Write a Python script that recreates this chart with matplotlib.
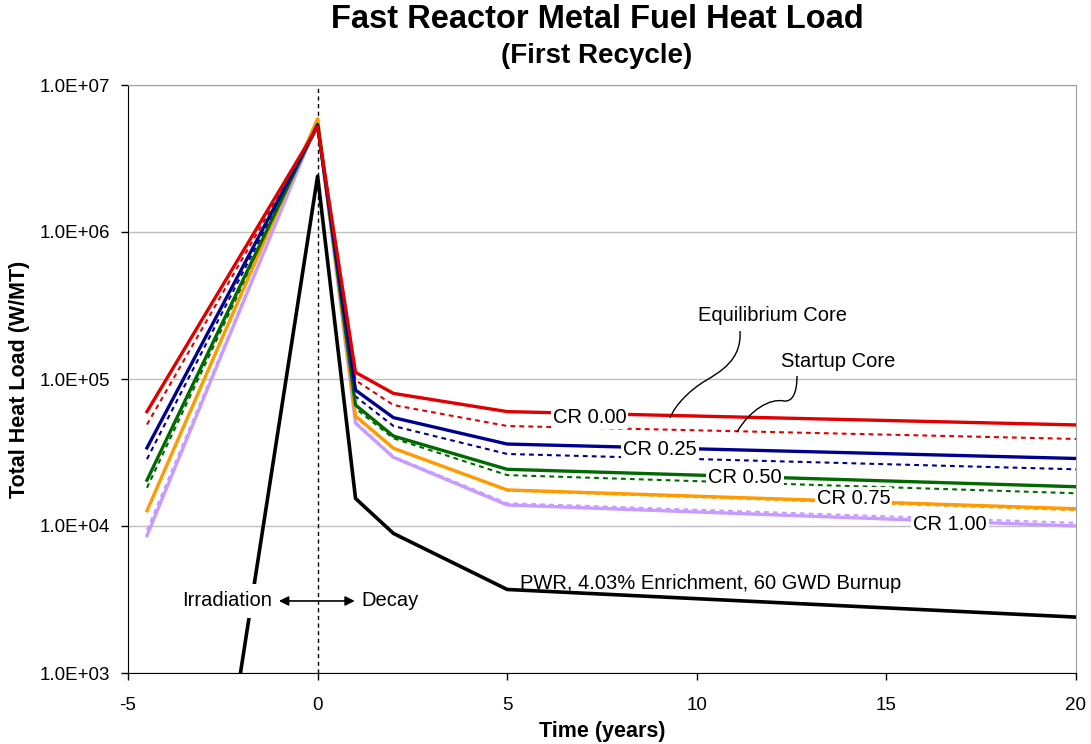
import numpy as np
import matplotlib
matplotlib.use("Agg")
import matplotlib.pyplot as plt
from matplotlib.path import Path
from matplotlib.patches import PathPatch
from matplotlib.ticker import FixedLocator, FuncFormatter, NullLocator

plt.rcParams["font.family"] = ["Liberation Sans", "DejaVu Sans"]
plt.rcParams["axes.unicode_minus"] = False

W, H = 1091, 744

# time axis (years); negative = irradiation, positive = decay
time = [-4.5, 0, 1, 2, 5, 20]

# equilibrium core (solid lines), W/MT
eq_cr000 = [6.0e4, 5.2e6, 1.11e5, 7.98e4, 6.0e4, 4.87e4]
eq_cr025 = [3.4e4, 5.3e6, 8.4e4, 5.46e4, 3.61e4, 2.88e4]
eq_cr050 = [2.05e4, 5.4e6, 6.65e4, 4.09e4, 2.43e4, 1.85e4]
eq_cr075 = [1.27e4, 5.9e6, 5.6e4, 3.38e4, 1.76e4, 1.31e4]
eq_cr100 = [8.6e3, 5.6e6, 5.0e4, 2.93e4, 1.39e4, 1.0e4]

# startup core (dotted lines), W/MT
su_cr000 = [4.9e4, 5.1e6, 9.8e4, 6.65e4, 4.79e4, 3.91e4]
su_cr025 = [2.85e4, 5.2e6, 7.6e4, 4.79e4, 3.09e4, 2.43e4]
su_cr050 = [1.82e4, 5.3e6, 6.3e4, 3.95e4, 2.22e4, 1.67e4]
su_cr075 = [1.25e4, 5.8e6, 5.5e4, 3.35e4, 1.74e4, 1.28e4]
su_cr100 = [9.4e3, 5.5e6, 5.1e4, 2.97e4, 1.43e4, 1.05e4]

# PWR reference
pwr = [0.08, 2.4e6, 1.54e4, 8.9e3, 3.7e3, 2.4e3]

cr_labels = ["CR 0.00", "CR 0.25", "CR 0.50", "CR 0.75", "CR 1.00"]
cr_label_x = [7.17, 9.03, 11.27, 14.13, 16.68]
cr_label_y = [5.43e4, 3.29e4, 2.14e4, 1.54e4, 1.02e4]

colors = ["#e00000", "#000090", "#006a00", "#ff9a00", "#c89bff"]
eq_series = [eq_cr000, eq_cr025, eq_cr050, eq_cr075, eq_cr100]
su_series = [su_cr000, su_cr025, su_cr050, su_cr075, su_cr100]


def fig_xy(px, py):
    # reference pixel -> figure fraction
    return px / W, 1 - py / H


fig = plt.figure(figsize=(W / 100, H / 100), dpi=100)
ax = fig.add_axes([128 / W, 1 - 673 / H, (1076 - 128) / W, (673 - 85) / H])

ax.set_yscale("log")
ax.set_xlim(-5, 20)
ax.set_ylim(1e3, 1e7)

ax.yaxis.set_major_locator(FixedLocator([1e3, 1e4, 1e5, 1e6, 1e7]))
ax.yaxis.set_minor_locator(NullLocator())
ax.yaxis.set_major_formatter(FuncFormatter(lambda v, p: f"{v:.1E}"))
ax.set_xticks([-5, 0, 5, 10, 15, 20])
ax.tick_params(axis="both", direction="out", length=5, width=1, labelsize=13.5, color="black")
ax.tick_params(axis="y", pad=8)
ax.tick_params(axis="x", pad=12)
ax.grid(axis="y", color="#c0c0c0", lw=1)
ax.set_axisbelow(True)
for s in ["top", "right"]:
    ax.spines[s].set_color("#a0a0a0")
for s in ["left", "bottom"]:
    ax.spines[s].set_color("black")

ax.axvline(0, color="black", lw=1, ls=(0, (3, 2.5)), zorder=2)

ax.plot(time, pwr, color="black", lw=2.6, zorder=3)
for su, c in zip(su_series[::-1], colors[::-1]):
    ax.plot(time, su, color=c, lw=1.5, ls=(0, (2.3, 2.0)), zorder=4)
for eq, c in zip(eq_series[::-1], colors[::-1]):
    ax.plot(time, eq, color=c, lw=2.4, zorder=5)

box = dict(boxstyle="square,pad=0.1", fc="white", ec="none")
for lab, x, y in zip(cr_labels, cr_label_x, cr_label_y):
    ax.text(x, y, lab, fontsize=14.5, ha="center", va="center", bbox=box, zorder=6)

ax.text(5.33, 4.09e3, "PWR, 4.03% Enrichment, 60 GWD Burnup", fontsize=14.5,
        ha="left", va="center", zorder=6)

ax.text(-1.19, 3.09e3, "Irradiation", fontsize=14.5, ha="right", va="center",
        bbox=dict(boxstyle="square,pad=0.35", fc="white", ec="none"), zorder=6)
ax.text(1.16, 3.09e3, "Decay", fontsize=14.5, ha="left", va="center", zorder=6)
ax.annotate("", xy=(-1.02, 3.09e3), xytext=(0.98, 3.09e3),
            arrowprops=dict(arrowstyle="<|-|>", color="black", lw=1.2,
                            mutation_scale=14, shrinkA=0, shrinkB=0), zorder=7)

ax.text(12.0, 2.69e5, "Equilibrium Core", fontsize=14.5, ha="center", va="center",
        bbox=dict(boxstyle="square,pad=0.15", fc="white", ec="none"), zorder=6)
ax.text(13.74, 1.31e5, "Startup Core", fontsize=14.5, ha="center", va="center",
        bbox=dict(boxstyle="square,pad=0.15", fc="white", ec="none"), zorder=6)

# curvy leader lines from the two labels to the CR 0.00 lines
eq_pts = [(740, 331), (742, 360), (720, 372), (705, 381),
          (690, 390), (675, 405), (670, 418)]
su_pts = [(797, 376), (797, 392), (793, 402), (784, 401),
          (770, 398), (750, 410), (737, 432)]
codes = [Path.MOVETO] + [Path.CURVE4] * 6
for pts in (eq_pts, su_pts):
    verts = [fig_xy(px, py) for px, py in pts]
    patch = PathPatch(Path(verts, codes), fc="none", ec="black", lw=1.0,
                      transform=fig.transFigure, zorder=8)
    fig.add_artist(patch)

fig.text(597 / W, 1 - 19 / H, "Fast Reactor Metal Fuel Heat Load", fontsize=23.5,
         fontweight="bold", ha="center", va="center")
fig.text(597 / W, 1 - 56 / H, "(First Recycle)", fontsize=20,
         fontweight="bold", ha="center", va="center")
fig.text(602 / W, 1 - 731 / H, "Time (years)", fontsize=15.5, fontweight="bold",
         ha="center", va="center")
fig.text(20 / W, 1 - 379 / H, "Total Heat Load (W/MT)", fontsize=15.5,
         fontweight="bold", ha="center", va="center", rotation=90)

fig.savefig("out.png", dpi=100)
